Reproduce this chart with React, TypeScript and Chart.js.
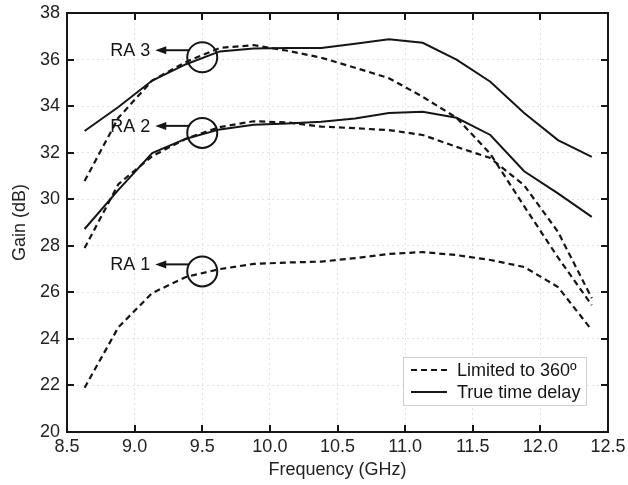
import React, { useEffect, useRef } from 'react';
import { Chart, registerables } from 'chart.js';

Chart.register(...registerables);

// Frequency sample points (GHz)
const freq = [8.63, 8.88, 9.13, 9.38, 9.63, 9.88, 10.13, 10.38, 10.63, 10.88, 11.13, 11.38, 11.63, 11.88, 12.13, 12.38];

// Gain (dB) — "Limited to 360º" (dashed)
const ra3Limited = [30.78, 33.5, 35.1, 35.9, 36.5, 36.62, 36.38, 36.08, 35.65, 35.2, 34.4, 33.5, 31.95, 29.7, 27.5, 25.45];
const ra2Limited = [27.9, 30.65, 31.85, 32.6, 33.1, 33.35, 33.3, 33.12, 33.05, 32.97, 32.76, 32.25, 31.77, 30.6, 28.6, 25.75];
const ra1Limited = [21.9, 24.5, 25.97, 26.66, 27.0, 27.22, 27.28, 27.32, 27.47, 27.65, 27.73, 27.6, 27.39, 27.09, 26.23, 24.38];

// Gain (dB) — "True time delay" (solid)
const ra3TTD = [32.93, 33.96, 35.1, 35.8, 36.35, 36.48, 36.5, 36.5, 36.68, 36.87, 36.72, 36.0, 35.05, 33.7, 32.54, 31.82];
const ra2TTD = [28.72, 30.4, 31.98, 32.6, 33.0, 33.2, 33.25, 33.33, 33.47, 33.7, 33.76, 33.5, 32.76, 31.2, 30.25, 29.24];

// Axis ticks
const xTicks = [8.5, 9, 9.5, 10, 10.5, 11, 11.5, 12, 12.5];
const yTicks = [20, 22, 24, 26, 28, 30, 32, 34, 36, 38];

// Legend and annotations
const legendLabels = ['Limited to 360º', 'True time delay'];
const annLabels = ['RA 3', 'RA 2', 'RA 1'];
const annFreq = [9.5, 9.5, 9.5];
const annGain = [36.1, 32.85, 26.9];

const FONT = "'Liberation Sans', Arial, Helvetica, sans-serif";
const INK = '#151515';

const toXY = (ys: number[]) => ys.map((y, i) => ({ x: freq[i], y }));

const framePlugin = {
  id: 'framePlugin',
  afterDraw(chart: any) {
    const { ctx, chartArea: a, scales } = chart;
    const xs = scales.x;
    const ys = scales.y;
    ctx.save();
    ctx.strokeStyle = INK;
    ctx.lineWidth = 2;
    ctx.setLineDash([]);
    ctx.strokeRect(a.left, a.top, a.right - a.left, a.bottom - a.top);
    const tl = 7;
    ctx.beginPath();
    xTicks.forEach((t) => {
      const px = Math.round(xs.getPixelForValue(t));
      ctx.moveTo(px, a.bottom);
      ctx.lineTo(px, a.bottom - tl);
      ctx.moveTo(px, a.top);
      ctx.lineTo(px, a.top + tl);
    });
    yTicks.forEach((t) => {
      const py = Math.round(ys.getPixelForValue(t));
      ctx.moveTo(a.left, py);
      ctx.lineTo(a.left + tl, py);
      ctx.moveTo(a.right, py);
      ctx.lineTo(a.right - tl, py);
    });
    ctx.stroke();

    ctx.font = `18px ${FONT}`;
    ctx.fillStyle = INK;
    ctx.textAlign = 'right';
    ctx.textBaseline = 'middle';
    annLabels.forEach((lab, i) => {
      const cx = xs.getPixelForValue(annFreq[i]);
      const cy = ys.getPixelForValue(annGain[i]);
      const r = 15;
      ctx.lineWidth = 2;
      ctx.strokeStyle = INK;
      ctx.beginPath();
      ctx.arc(cx, cy, r, 0, Math.PI * 2);
      ctx.stroke();
      const ay = cy - 7;
      const startX = cx - Math.sqrt(r * r - 49);
      const tipX = cx - 47;
      ctx.beginPath();
      ctx.moveTo(startX, ay);
      ctx.lineTo(tipX + 8, ay);
      ctx.stroke();
      ctx.beginPath();
      ctx.moveTo(tipX, ay);
      ctx.lineTo(tipX + 11, ay - 4);
      ctx.lineTo(tipX + 11, ay + 4);
      ctx.closePath();
      ctx.fill();
      ctx.fillText(lab, tipX - 5, ay + 1);
    });

    const lx = 403, ly = 357, lw = 183, lh = 48;
    ctx.fillStyle = '#ffffff';
    ctx.fillRect(lx, ly, lw, lh);
    ctx.strokeStyle = '#cfcfcf';
    ctx.lineWidth = 1;
    ctx.strokeRect(lx + 0.5, ly + 0.5, lw, lh);
    ctx.strokeStyle = INK;
    ctx.lineWidth = 2;
    const rows = [ly + 13, ly + 35];
    ctx.setLineDash([6, 4]);
    ctx.beginPath();
    ctx.moveTo(lx + 8, rows[0]);
    ctx.lineTo(lx + 44, rows[0]);
    ctx.stroke();
    ctx.setLineDash([]);
    ctx.beginPath();
    ctx.moveTo(lx + 8, rows[1]);
    ctx.lineTo(lx + 44, rows[1]);
    ctx.stroke();
    ctx.fillStyle = INK;
    ctx.textAlign = 'left';
    ctx.font = `18px ${FONT}`;
    legendLabels.forEach((t, i) => ctx.fillText(t, lx + 54, rows[i] + 1));
    ctx.restore();
  },
};

export default function App() {
  const ref = useRef<HTMLCanvasElement>(null);
  useEffect(() => {
    document.body.style.margin = '0';
    const canvas = ref.current!;
    const dashed = { borderColor: INK, borderWidth: 2.2, borderDash: [6, 4], pointRadius: 0, tension: 0, fill: false };
    const solid = { borderColor: INK, borderWidth: 2, pointRadius: 0, tension: 0, fill: false };
    const chart = new Chart(canvas, {
      type: 'line',
      data: {
        datasets: [
          { label: 'RA 3 limited', data: toXY(ra3Limited), ...dashed },
          { label: 'RA 2 limited', data: toXY(ra2Limited), ...dashed },
          { label: 'RA 1 limited', data: toXY(ra1Limited), ...dashed },
          { label: 'RA 3 TTD', data: toXY(ra3TTD), ...solid },
          { label: 'RA 2 TTD', data: toXY(ra2TTD), ...solid },
        ],
      },
      options: {
        animation: false,
        responsive: false,
        layout: { padding: { top: 13, right: 20, left: 0, bottom: 0 } },
        plugins: { legend: { display: false }, tooltip: { enabled: false } },
        scales: {
          x: {
            type: 'linear',
            min: 8.5,
            max: 12.5,
            afterBuildTicks: (s: any) => { s.ticks = xTicks.map((v) => ({ value: v })); },
            afterFit: (s: any) => { s.height = 53; s.paddingLeft = 0; s.paddingRight = 0; },
            grid: { color: '#e2e2e2', drawTicks: false, lineWidth: 1 },
            border: { display: false, dash: [2, 3] },
            ticks: { color: '#222', font: { family: FONT, size: 18 }, padding: 4, maxRotation: 0, autoSkip: false },
            title: { display: true, text: 'Frequency (GHz)', color: '#222', font: { family: FONT, size: 18 }, padding: { top: 0, bottom: 4 } },
          },
          y: {
            type: 'linear',
            min: 20,
            max: 38,
            afterBuildTicks: (s: any) => { s.ticks = yTicks.map((v) => ({ value: v })); },
            afterFit: (s: any) => { s.width = 67; s.paddingTop = 0; s.paddingBottom = 0; },
            grid: { color: '#e2e2e2', drawTicks: false, lineWidth: 1 },
            border: { display: false, dash: [2, 3] },
            ticks: { color: '#222', font: { family: FONT, size: 18 }, padding: 7, autoSkip: false },
            title: { display: true, text: 'Gain (dB)', color: '#222', font: { family: FONT, size: 18 }, padding: { top: 9, bottom: 0 } },
          },
        },
      },
      plugins: [framePlugin],
    } as any);
    return () => chart.destroy();
  }, []);
  return (
    <div style={{ width: 628, height: 485 }}>
      <canvas ref={ref} width={628} height={485} />
    </div>
  );
}
